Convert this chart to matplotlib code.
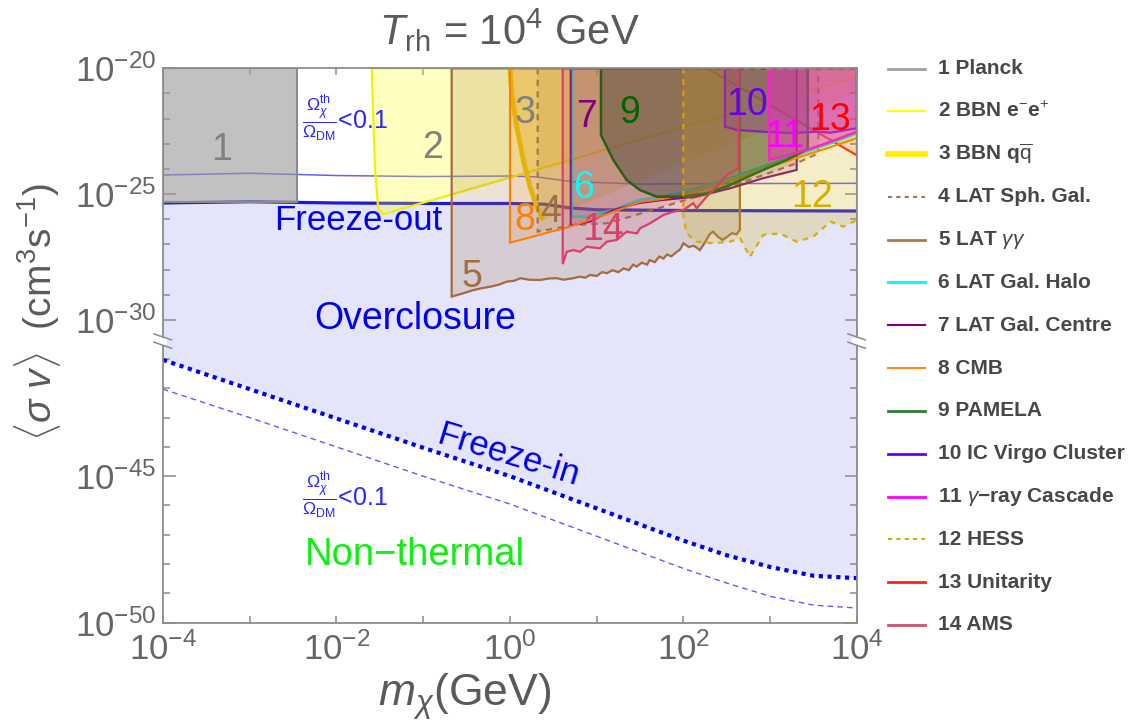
import numpy as np
import matplotlib
matplotlib.use("Agg")
import matplotlib.pyplot as plt
from matplotlib.lines import Line2D
from matplotlib.patches import Polygon, Rectangle
from matplotlib.ticker import FixedLocator, NullFormatter, FixedFormatter

plt.rcParams['font.family'] = ['Liberation Sans', 'DejaVu Sans']
plt.rcParams['mathtext.fontset'] = 'custom'
plt.rcParams['mathtext.rm'] = 'Liberation Sans'
plt.rcParams['mathtext.it'] = 'Liberation Sans:italic'
plt.rcParams['mathtext.bf'] = 'Liberation Sans:bold'

# ---------------------------------------------------------------------------
# Data: all values are log10 of m_chi [GeV] (lm) and log10 of <sigma v> [cm^3/s] (ls)
# ---------------------------------------------------------------------------
freezeout_lm = [-4, -3, -2, -1, 0, 0.4, 0.7, 1.0, 2, 3, 4]
freezeout_ls = [-25.35, -25.30, -25.35, -25.37, -25.37, -25.40, -25.55, -25.62, -25.65, -25.66, -25.67]

subdom_out_lm = [-4, -3, -2, -1, 0, 0.3, 0.7, 1.5, 2.5, 4]
subdom_out_ls = [-24.24, -24.17, -24.26, -24.30, -24.28, -24.31, -24.50, -24.60, -24.58, -24.57]

freezein_lm = [-4, -3, -2, -1, 0, 1, 2, 2.5, 3, 3.5, 4]
freezein_ls = [-41.03, -42.03, -43.03, -44.03, -45.0, -46.1, -47.2, -47.7, -48.1, -48.4, -48.48]

subdom_in_lm = [-4, -3, -2, -1, 0, 1, 2, 2.5, 3, 3.5, 4]
subdom_in_ls = [-42.03, -43.0, -44.0, -45.0, -45.95, -47.05, -48.15, -48.65, -49.1, -49.4, -49.5]

planck_lm = [-4, -2.45, -2.45, -4]
planck_ls = [-20, -20, -25.3, -25.3]

bbn_ee_lm = [-1.594, -1.576, -1.556, -1.518, -1.46, 4.0, 4.0]
bbn_ee_ls = [-20.0, -21.92, -23.91, -25.63, -25.80, -20.34, -20.0]

bbn_qq_lm = [0.0, 0.0196, 0.0772, 0.1533, 0.2305, 0.3078, 0.384, 4.0, 4.0]
bbn_qq_ls = [-20.0, -20.99, -22.32, -23.64, -24.70, -25.50, -26.03, -21.0, -20.0]

lat_sph_lm = [0.319, 0.319, 0.726, 1.115, 1.383, 1.767, 2.152, 2.536, 2.920, 3.305, 3.554, 3.554]
lat_sph_ls = [-20.0, -26.49, -26.23, -26.16, -25.90, -25.50, -25.10, -24.70, -24.24, -23.77, -23.38, -20.0]

lat_gg_lm = [-0.672, -0.672, -0.55, -0.42, -0.33, -0.23, -0.13, -0.04, 0.05, 0.12, 0.22, 0.35,
             0.45, 0.54, 0.62, 0.73, 0.80, 0.87, 0.92, 1.00, 1.06, 1.12, 1.18, 1.25, 1.31,
             1.37, 1.42, 1.46, 1.52, 1.58, 1.61, 1.67, 1.72, 1.77, 1.81, 1.86, 1.92, 1.96,
             2.00, 2.06, 2.12, 2.19, 2.25, 2.30, 2.34, 2.40, 2.45, 2.50, 2.56, 2.61, 2.65, 2.65]
lat_gg_ls = [-20.0, -29.07, -28.95, -28.81, -28.74, -28.68, -28.60, -28.48, -28.44, -28.34, -28.40, -28.41,
             -28.35, -28.34, -28.40, -28.34, -28.28, -28.32, -28.21, -28.25, -28.10, -28.14, -28.02, -28.10, -27.95,
             -28.02, -27.80, -27.88, -27.72, -27.80, -27.62, -27.70, -27.48, -27.56, -27.40, -27.47, -27.30, -27.20,
             -26.95, -27.10, -27.05, -27.22, -26.90, -26.60, -26.49, -26.70, -26.82, -26.70, -26.55, -26.60, -26.42, -20.0]

lat_halo_lm = [0.711, 0.711, 0.884, 1.187, 1.498, 1.767, 2.152, 2.536, 2.916, 3.305, 3.694, 4.0, 4.0]
lat_halo_ls = [-20.0, -25.90, -25.90, -25.63, -25.23, -25.10, -24.77, -24.36, -23.91, -23.44, -22.98, -22.58, -20.0]

lat_gc_lm = [0.700, 0.700, 0.922, 1.187, 1.498, 1.764, 2.152, 2.536, 2.916, 3.305, 3.305]
lat_gc_ls = [-20.0, -26.25, -26.09, -25.63, -25.35, -25.23, -25.10, -24.77, -24.37, -24.04, -20.0]

cmb_lm = [0.0, 0.0, 0.692, 1.187, 1.498, 1.764, 2.152, 2.536, 2.916, 3.305, 3.694, 4.0, 4.0]
cmb_ls = [-20.0, -26.93, -26.29, -25.71, -25.31, -25.19, -24.89, -24.48, -24.02, -23.56, -23.13, -22.77, -20.0]

pamela_lm = [1.049, 1.049, 1.191, 1.345, 1.499, 1.691, 1.960, 2.267, 2.536, 2.916, 3.190, 3.432, 3.432]
pamela_ls = [-20.0, -22.65, -23.64, -24.44, -24.84, -25.10, -25.10, -24.97, -24.64, -24.04, -23.64, -23.21, -20.0]

virgo_lm = [2.478, 2.478, 2.613, 2.916, 3.228, 3.539, 3.694, 4.0, 4.0]
virgo_ls = [-20.0, -22.32, -22.45, -22.52, -22.57, -22.52, -22.56, -22.38, -20.0]

cascade_lm = [2.989, 2.989, 3.420, 3.694, 4.0, 4.0]
cascade_ls = [-20.0, -23.64, -23.25, -22.92, -22.52, -20.0]

hess_lm = [1.998, 1.998, 2.037, 2.152, 2.343, 2.536, 2.651, 2.766, 2.920, 3.112, 3.305, 3.496,
           3.694, 3.842, 4.0, 4.0]
hess_ls = [-20.0, -25.90, -26.56, -26.89, -26.95, -26.89, -26.75, -27.49, -26.62, -26.56, -26.89, -26.69,
           -26.09, -26.29, -26.03, -20.0]

unitarity_lm = [2.27, 4.0, 4.0]
unitarity_ls = [-20.0, -23.46, -20.0]

ams_lm = [0.608, 0.608, 0.654, 0.730, 0.807, 0.884, 1.037, 1.115, 1.230, 1.345, 1.461, 1.499,
          1.614, 1.767, 1.883, 1.998, 2.113, 2.152, 2.267, 2.383, 2.498, 2.632, 2.632]
ams_ls = [-20.0, -27.78, -27.29, -27.22, -27.29, -27.09, -27.15, -26.89, -26.82, -26.49, -26.56, -26.36,
          -26.16, -25.83, -25.70, -25.63, -25.36, -25.56, -25.10, -24.70, -24.24, -23.97, -20.0]

legend_labels = ["1 Planck", "2 BBN e$^{-}$e$^{+}$", r"3 BBN q$\overline{\rm q}$", "4 LAT Sph. Gal.",
                 r"5 LAT $\gamma\gamma$", "6 LAT Gal. Halo", "7 LAT Gal. Centre", "8 CMB",
                 "9 PAMELA", "10 IC Virgo Cluster", "11 $\\gamma$\u2212ray Cascade", "12 HESS",
                 "13 Unitarity", "14 AMS"]

# ---------------------------------------------------------------------------
# Broken logarithmic y axis: [1e-50, ~1e-40.4] below the break, [~1e-30.9, 1e-20] above
# ---------------------------------------------------------------------------
LOW_TOP, UP_BOT = -40.42, -30.87
K_LOW, K_UP, EPS = 29.3, 25.17, 0.01
U1 = (LOW_TOP + 50) * K_LOW
U2 = U1 + (UP_BOT - LOW_TOP) * EPS


def _fwd(v):
    L = np.log10(np.clip(np.asarray(v, dtype=float), 1e-300, None))
    return np.where(L <= LOW_TOP, (L + 50) * K_LOW,
                    np.where(L >= UP_BOT, U2 + (L - UP_BOT) * K_UP,
                             U1 + (L - LOW_TOP) * EPS))


def _inv(u):
    u = np.asarray(u, dtype=float)
    L = np.where(u <= U1, u / K_LOW - 50,
                 np.where(u >= U2, UP_BOT + (u - U2) / K_UP,
                          LOW_TOP + (u - U1) / EPS))
    return 10.0 ** L


def xy(lm, ls):
    return np.column_stack([10.0 ** np.asarray(lm), 10.0 ** np.asarray(ls)])


fig = plt.figure(figsize=(11.3, 7.27), dpi=100)
ax = fig.add_axes([0.1442, 0.14347, 0.6142, 0.76259])
ax.set_xscale('log')
ax.set_yscale('function', functions=(_fwd, _inv))
ax.set_xlim(1e-4, 1e4)
ax.set_ylim(1e-50, 1e-20)

GRAY = '#8c8c8c'
TXT = '#666666'

# overclosure band between freeze-in and freeze-out
band = np.vstack([xy(freezeout_lm, freezeout_ls), xy(freezein_lm, freezein_ls)[::-1]])
ax.add_patch(Polygon(band, closed=True, facecolor='#e4e4fa', edgecolor='none', zorder=1))

ax.plot(10.0 ** np.array(subdom_out_lm), 10.0 ** np.array(subdom_out_ls), color='#4848f0',
        lw=1.1, alpha=0.85, zorder=2)
ax.plot(10.0 ** np.array(freezeout_lm), 10.0 ** np.array(freezeout_ls), color='#1c1cd6',
        lw=2.3, zorder=2)
ax.plot(10.0 ** np.array(freezein_lm), 10.0 ** np.array(freezein_ls), color='#0000f0',
        lw=3.0, linestyle=(0, (1, 1.1)), zorder=2)
ax.plot(10.0 ** np.array(subdom_in_lm), 10.0 ** np.array(subdom_in_ls), color='#5c5cff',
        lw=1.0, linestyle=(0, (4, 3)), zorder=2)

# constraint regions, in drawing order:
# (lm, ls, face colour, alpha, edge colour, line width, line style)
regions = [
    (unitarity_lm, unitarity_ls, '#ff0000', 0.10, '#ff2020', 1.6, '-'),
    (planck_lm, planck_ls, '#999999', 0.6, '#8a8a8a', 1.5, '-'),
    (bbn_ee_lm, bbn_ee_ls, '#ffff00', 0.25, '#f2f200', 1.6, '-'),
    (bbn_qq_lm, bbn_qq_ls, '#e8b400', 0.28, 'none', 0, '-'),
    (lat_sph_lm, lat_sph_ls, '#a07850', 0.15, '#9a7048', 1.5, (0, (3, 2.5))),
    (lat_gg_lm, lat_gg_ls, '#a0703c', 0.20, '#a06d3c', 1.6, '-'),
    (lat_halo_lm, lat_halo_ls, '#00ffff', 0.10, '#00f0f0', 2.0, '-'),
    (lat_gc_lm, lat_gc_ls, '#800080', 0.16, '#800080', 1.5, '-'),
    (cmb_lm, cmb_ls, '#ff8000', 0.12, '#ff8000', 1.5, '-'),
    (pamela_lm, pamela_ls, '#304830', 0.45, '#0a640a', 1.8, '-'),
    (virgo_lm, virgo_ls, '#6a00ff', 0.25, '#6a00e6', 1.6, '-'),
    (cascade_lm, cascade_ls, '#ff00ff', 0.42, '#ff00ff', 1.8, '-'),
    (hess_lm, hess_ls, '#d4b000', 0.22, '#d4b000', 1.6, (0, (2.5, 2.5))),
    (ams_lm, ams_ls, '#d8406a', 0.16, '#d8406a', 1.6, '-'),
]
z = 3.0
for lm, ls, fc, a, ec, lw, sty in regions:
    ax.add_patch(Polygon(xy(lm, ls), closed=True, facecolor=fc, alpha=a,
                         edgecolor='none', zorder=z))
    if ec != 'none':
        ax.add_patch(Polygon(xy(lm, ls), closed=True, facecolor='none', edgecolor=ec,
                             lw=lw, linestyle=sty, zorder=z + 0.01))
    else:
        # BBN q-qbar boundary curve
        ax.plot(10.0 ** np.array(lm[:7]), 10.0 ** np.array(ls[:7]), color='#f2cc00',
                lw=3.5, zorder=z + 0.01, solid_capstyle='butt')
    z += 0.05

# region numbers
num_labels = [
    ("1", -3.32, -23.25, '#808080'), ("2", -0.888, -23.17, '#808080'),
    ("3", 0.173, -21.78, '#808080'), ("4", 0.473, -25.71, '#9a7048'),
    ("5", -0.438, -28.29, '#a06d3c'), ("6", 0.853, -24.76, '#00ffff'),
    ("7", 0.884, -21.92, '#800080'), ("8", 0.173, -26.03, '#ff8000'),
    ("9", 1.383, -21.79, '#006400'), ("10", 2.73, -21.46, '#6a00e6'),
    ("11", 3.17, -22.72, '#ff00ff'), ("12", 3.48, -25.10, '#d4b000'),
    ("13", 3.69, -22.05, '#ff0000'), ("14", 1.07, -26.42, '#d8406a'),
]
for t, lm, ls, c in num_labels:
    ax.text(10.0 ** lm, 10.0 ** ls, t, color=c, fontsize=27, ha='center', va='center', zorder=6)

frac = r'$\frac{\Omega_\chi^{\rm th}}{\Omega_{\rm DM}}$<0.1'
ax.text(10.0 ** -1.902, 10.0 ** -21.94, frac, color='#2828ff', fontsize=18,
        ha='center', va='center', zorder=6)
ax.text(10.0 ** -1.902, 10.0 ** -45.64, frac, color='#2828ff', fontsize=18,
        ha='center', va='center', zorder=6)
ax.text(10.0 ** -1.752, 10.0 ** -26.03, "Freeze-out", color='#0000ee', fontsize=25,
        ha='center', va='center', zorder=6)
ax.text(10.0 ** -1.095, 10.0 ** -29.96, "Overclosure", color='#0000ee', fontsize=27,
        ha='center', va='center', zorder=6)
ax.text(10.0 ** -0.023, 10.0 ** -44.28, "Freeze-in", color='#0000ee', fontsize=25,
        ha='center', va='center', rotation=-17, rotation_mode='anchor', zorder=6)
ax.text(10.0 ** -1.095, 10.0 ** -47.69, "Non\u2212thermal", color='#11ee11', fontsize=27.5,
        ha='center', va='center', zorder=6)

# axes frame and ticks
for s in ax.spines.values():
    s.set_color(GRAY)
    s.set_linewidth(1.3)
    s.set_zorder(7)

ymaj = [-50, -45, -30, -25, -20]
ymin = [e for e in list(range(-49, -40)) + list(range(-29, -20)) if e not in ymaj]
ax.yaxis.set_major_locator(FixedLocator([10.0 ** e for e in ymaj]))
ax.yaxis.set_major_formatter(FixedFormatter([r'$10^{%d}$' % e for e in ymaj]))
ax.yaxis.set_minor_locator(FixedLocator([10.0 ** e for e in ymin]))
ax.yaxis.set_minor_formatter(NullFormatter())
xmaj = [-4, -2, 0, 2, 4]
xmin = [-3, -1, 1, 3]
ax.xaxis.set_major_locator(FixedLocator([10.0 ** e for e in xmaj]))
ax.xaxis.set_major_formatter(FixedFormatter([r'$10^{%d}$' % e for e in xmaj]))
ax.xaxis.set_minor_locator(FixedLocator([10.0 ** e for e in xmin]))
ax.xaxis.set_minor_formatter(NullFormatter())
ax.tick_params(axis='both', which='both', direction='in', color=GRAY, width=1.1,
               labelcolor=TXT, labelsize=25, top=True, right=True, zorder=7)
ax.tick_params(axis='y', which='major', length=9, pad=5)
ax.tick_params(axis='y', which='minor', length=5)
ax.tick_params(axis='x', which='both', length=5, pad=7)

# axis break marks
for x0, x1 in [(-0.013, 0.0125), (0.987, 1.012)]:
    ax.add_patch(Rectangle((x0 + 0.006, 0.500), (x1 - x0) - 0.012, 0.013, transform=ax.transAxes,
                           facecolor='white', edgecolor='none', clip_on=False, zorder=8))
    for y0, y1 in [(0.521, 0.510), (0.506, 0.495)]:
        ax.add_line(Line2D([x0, x1], [y0, y1], transform=ax.transAxes, color=GRAY, lw=1.1,
                           clip_on=False, zorder=9))

# titles
fig.text(509 / 1130, 1 - 45 / 727, r'$T_{\rm rh}$ = 10$^4$ GeV', color='#5a5a5a', fontsize=30,
         ha='center', va='baseline')
fig.text(465 / 1130, 1 - 697 / 727, r'$m_\chi$(GeV)', color='#5a5a5a', fontsize=32,
         ha='center', va='center')
fig.text(38 / 1130, 1 - 312 / 727, r'$\langle\sigma\ v\rangle$  (cm$^3$s$^{-1}$)', color='#5a5a5a',
         fontsize=28, ha='center', va='center', rotation=90)

# legend
leg_styles = [('#a0a0a0', 2.0, '-'), ('#ffff00', 1.5, '-'), ('#ffee00', 4.0, '-'),
              ('#a07850', 1.5, (0, (2, 2))), ('#a87a50', 2.0, '-'), ('#00ffff', 2.2, '-'),
              ('#800080', 1.5, '-'), ('#ff8c1a', 1.5, '-'), ('#2e7d32', 2.0, '-'),
              ('#6a00f0', 2.0, '-'), ('#ff00ff', 2.0, '-'), ('#c8b400', 1.5, (0, (2, 2))),
              ('#ff2020', 2.0, '-'), ('#d05070', 2.0, '-')]
for i, (lab, (c, lw, sty)) in enumerate(zip(legend_labels, leg_styles)):
    yp = 1 - (68.5 + i * 42.8) / 727
    fig.add_artist(Line2D([888 / 1130, 925 / 1130], [yp, yp], transform=fig.transFigure,
                          color=c, lw=lw, linestyle=sty))
    fig.text(938 / 1130, yp, lab, color='#474747', fontsize=15, fontweight='bold',
             ha='left', va='center')

fig.savefig('out.png', dpi=100)
